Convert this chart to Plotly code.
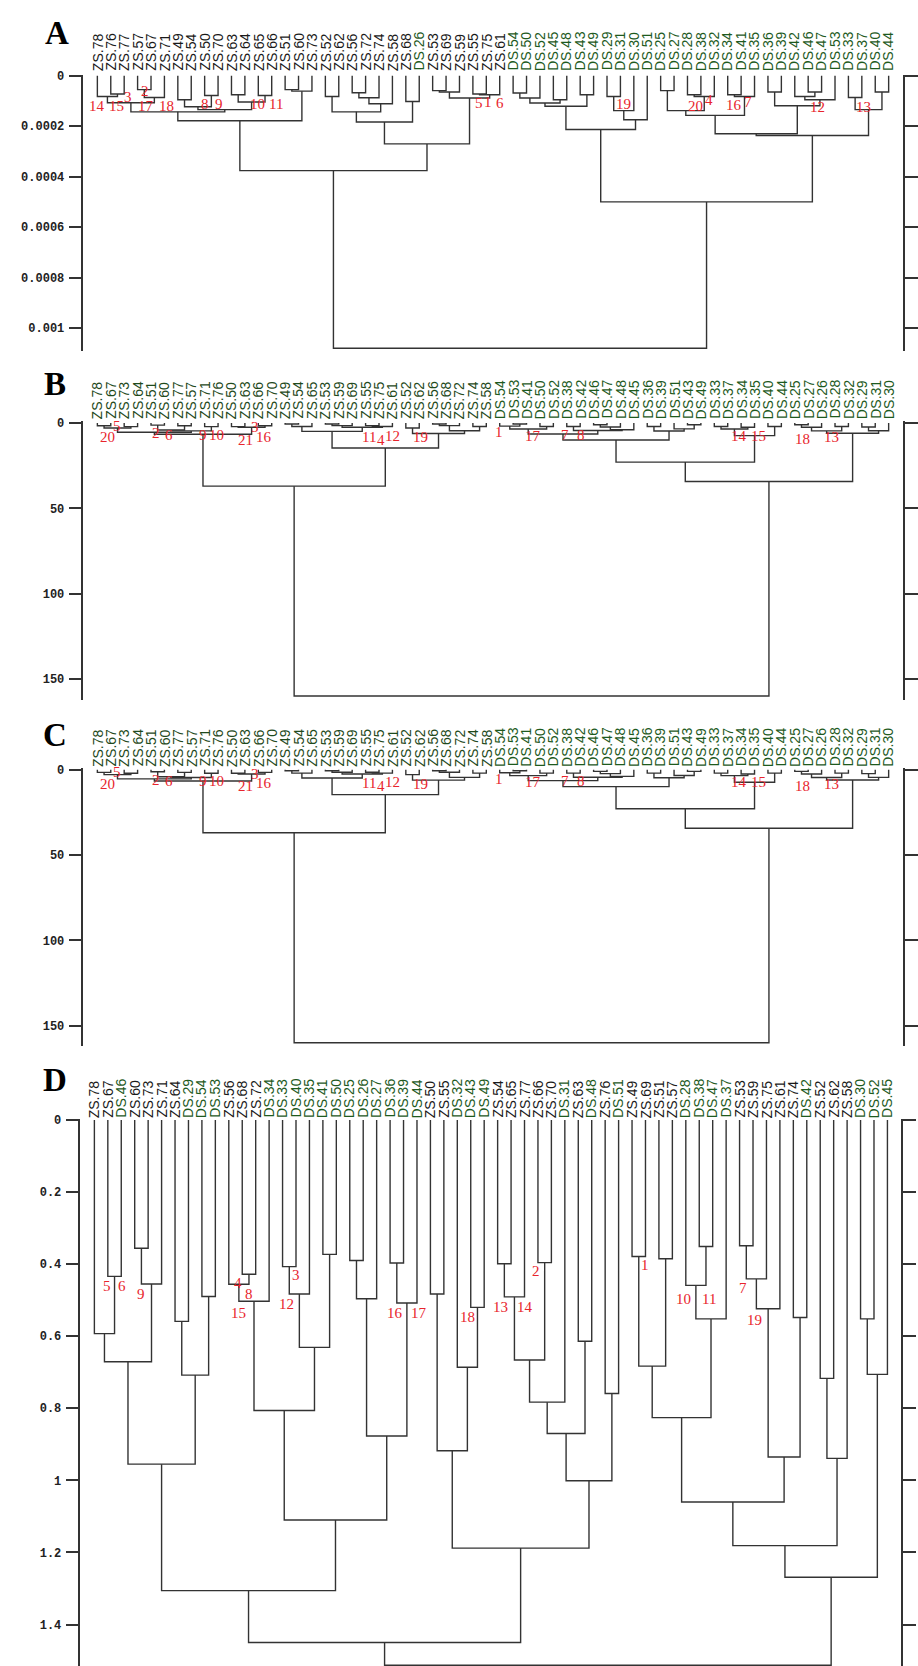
import plotly.graph_objects as go

W, H = 918, 1666

# ---------------- Panel A ----------------
a_leaves = ["ZS.78","ZS.76","ZS.77","ZS.57","ZS.67","ZS.71","ZS.49","ZS.54","ZS.50","ZS.70",
            "ZS.63","ZS.64","ZS.65","ZS.66","ZS.51","ZS.60","ZS.73","ZS.52","ZS.62","ZS.56",
            "ZS.72","ZS.74","ZS.58","ZS.68","DS.26","ZS.53","ZS.69","ZS.59","ZS.55","ZS.75",
            "ZS.61","DS.54","DS.50","DS.52","DS.45","DS.48","DS.43","DS.49","DS.29","DS.31",
            "DS.30","DS.51","DS.25","DS.27","DS.28","DS.38","DS.32","DS.34","DS.41","DS.35",
            "DS.36","DS.39","DS.42","DS.46","DS.47","DS.53","DS.33","DS.37","DS.40","DS.44"]
a_left = [1,0,3,62,61,6,8,65,10,12,68,67,64,14,73,72,17,19,77,78,76,23,80,25,83,28,85,84,82,75,
          31,90,34,91,36,93,38,96,97,95,42,44,101,100,47,104,103,50,53,52,109,107,106,56,58,113,112,99,89]
a_right = [2,60,4,5,63,7,9,66,11,13,69,70,71,15,16,74,18,20,21,22,79,24,81,26,27,29,30,86,87,88,
           32,33,35,92,37,94,39,40,41,98,43,45,46,102,48,49,105,51,54,108,55,110,111,57,59,114,115,116,117]
a_height = [7.2e-5,8.2e-5,5.5e-5,8.6e-5,1.07e-4,9.5e-5,7.8e-5,1.23e-4,7.5e-5,7.8e-5,
            1.04e-4,1.34e-4,1.43e-4,5.5e-5,6.1e-5,1.78e-4,8.2e-5,6.7e-5,8.7e-5,1.11e-4,
            1.43e-4,1.02e-4,1.83e-4,5.9e-5,6.4e-5,7.2e-5,7.5e-5,8.8e-5,2.7e-4,3.76e-4,
            6.8e-5,8.8e-5,9.5e-5,1.08e-4,7.5e-5,1.21e-4,8.2e-5,1.38e-4,1.74e-4,2.13e-4,
            5.9e-5,7.5e-5,8.2e-5,1.38e-4,7.5e-5,8.2e-5,1.57e-4,6.4e-5,6.4e-5,8.2e-5,
            9.5e-5,1.19e-4,2.30e-4,8.6e-5,6.4e-5,1.34e-4,2.37e-4,5.0e-4,1.08e-3]
a_ticks = [0, 0.0002, 0.0004, 0.0006, 0.0008, 0.001]
a_ticktext = ["0", "0.0002", "0.0004", "0.0006", "0.0008", "0.001"]
a_num_text = ["14","15","3","2","17","18","8","9","10","11","5","1","6","19","20","4","16","7","12","13"]
a_num_x = [-0.02,1.39,2.30,3.56,3.61,5.19,8.0,9.04,11.93,13.33,28.47,29.16,30.02,39.24,44.59,45.63,47.5,48.54,53.73,57.13]
a_num_y = [1.21e-4,1.21e-4,0.83e-4,0.59e-4,1.21e-4,1.21e-4,1.12e-4,1.12e-4,1.12e-4,1.12e-4,
           1.08e-4,1.02e-4,1.08e-4,1.12e-4,1.19e-4,0.95e-4,1.15e-4,1.02e-4,1.25e-4,1.24e-4]

# ---------------- Panel B ----------------
b_leaves = ["ZS.78","ZS.67","ZS.73","ZS.64","ZS.51","ZS.60","ZS.77","ZS.57","ZS.71","ZS.76",
            "ZS.50","ZS.63","ZS.66","ZS.70","ZS.49","ZS.54","ZS.65","ZS.53","ZS.59","ZS.69",
            "ZS.55","ZS.75","ZS.61","ZS.52","ZS.62","ZS.56","ZS.68","ZS.72","ZS.74","ZS.58",
            "DS.54","DS.53","DS.41","DS.50","DS.52","DS.38","DS.42","DS.46","DS.47","DS.48",
            "DS.45","DS.36","DS.39","DS.51","DS.43","DS.49","DS.33","DS.37","DS.34","DS.35",
            "DS.40","DS.44","DS.25","DS.27","DS.26","DS.28","DS.32","DS.29","DS.31","DS.30"]
b_left = [0,2,60,4,6,63,8,65,62,10,12,69,68,14,73,17,75,20,77,76,74,23,25,82,28,83,81,80,72,
          31,30,33,90,35,37,94,95,93,92,41,44,43,99,98,46,48,104,50,106,103,52,110,55,111,57,114,113,109,88]
b_right = [1,3,61,5,7,64,9,66,67,11,13,70,71,15,16,18,19,21,22,78,79,24,26,27,29,84,85,86,87,
           32,89,34,91,36,38,39,40,96,97,42,45,100,101,102,47,49,105,51,107,108,53,54,56,112,58,59,115,116,117]
b_height = [1.6,2.1,2.9,1.2,1.6,4.1,2.1,4.6,5.4,2.1,1.6,2.5,6.6,0.6,2.0,0.6,1.5,1.5,2.0,2.5,
            4.9,2.9,0.6,1.5,2.0,4.5,6.1,14.6,37.0,0.6,1.8,2.0,3.5,2.0,1.0,2.3,3.9,4.4,6.4,2.0,
            1.0,3.4,4.7,9.9,2.0,2.5,3.5,2.0,7.4,22.9,1.0,2.5,2.0,4.6,2.3,4.5,6.0,34.3,160.0]
b_ticks = [0, 50, 100, 150]
b_ticktext = ["0", "50", "100", "150"]
b_num_text = ["20","5","2","6","9","10","21","3","16","11","4","12","19","1","17","7","8","14","15","18","13"]
b_num_x = [0.77,1.43,4.35,5.33,7.85,8.91,11.01,11.76,12.42,20.27,21.14,22.0,24.1,29.98,32.5,34.9,36.07,47.85,49.3,52.54,54.76]
b_num_y = [8.4,1.5,5.8,6.8,6.8,6.8,9.7,2.5,8.0,8.0,9.7,7.4,8.4,5.4,7.4,6.8,6.8,7.4,7.4,9.3,8.4]

# ---------------- Panel C (same clustering as B) ----------------
c_leaves = list(b_leaves)
c_left = list(b_left)
c_right = list(b_right)
c_height = list(b_height)
c_ticks = [0, 50, 100, 150]
c_ticktext = ["0", "50", "100", "150"]
c_num_text = list(b_num_text)
c_num_x = list(b_num_x)
c_num_y = list(b_num_y)

# ---------------- Panel D ----------------
d_leaves = ["ZS.78","ZS.67","DS.46","ZS.60","ZS.73","ZS.71","ZS.64","DS.29","DS.54","DS.53",
            "ZS.56","ZS.68","ZS.72","DS.34","DS.33","DS.40","DS.35","DS.41","DS.50","DS.25",
            "DS.26","DS.27","DS.36","DS.39","DS.44","ZS.50","ZS.55","DS.32","DS.43","DS.49",
            "ZS.54","ZS.65","ZS.77","ZS.66","ZS.70","DS.31","ZS.63","DS.48","ZS.76","DS.51",
            "ZS.49","ZS.69","ZS.51","ZS.57","DS.28","DS.38","DS.47","DS.37","ZS.53","ZS.59",
            "ZS.75","ZS.61","ZS.74","DS.42","ZS.52","ZS.62","ZS.58","DS.30","DS.52","DS.45"]
d_left = [1,0,3,62,61,6,8,65,64,11,10,70,14,72,17,73,71,19,77,22,79,78,76,68,25,28,27,84,30,88,
          33,89,91,36,92,38,94,87,83,40,42,99,45,44,103,101,48,106,107,52,108,105,54,112,111,57,115,114,98]
d_right = [2,60,4,5,63,7,9,66,67,12,69,13,15,16,18,74,75,20,21,23,24,80,81,82,26,29,85,86,31,32,
           34,90,35,37,93,39,95,96,97,41,43,100,46,102,47,104,49,50,51,53,109,110,55,56,113,58,59,116,117]
d_height = [0.434,0.593,0.356,0.455,0.671,0.559,0.490,0.708,0.955,0.428,
            0.456,0.503,0.407,0.483,0.373,0.631,0.806,0.390,0.496,0.397,
            0.508,0.877,1.110,1.306,0.483,0.520,0.686,0.918,0.399,0.491,
            0.396,0.666,0.783,0.614,0.870,0.759,1.001,1.188,1.450,0.379,
            0.385,0.683,0.351,0.459,0.552,0.826,0.349,0.441,0.524,0.548,
            0.935,1.060,0.717,0.939,1.181,0.552,0.706,1.269,1.513]
d_ticks = [0, 0.2, 0.4, 0.6, 0.8, 1.0, 1.2, 1.4]
d_ticktext = ["0", "0.2", "0.4", "0.6", "0.8", "1", "1.2", "1.4"]
d_num_text = ["5","6","9","4","8","15","3","12","16","17","18","13","14","2","1","10","11","7","19"]
d_num_x = [0.91,2.09,3.5,10.72,11.51,10.72,14.98,14.32,22.34,24.15,27.77,30.25,32.03,32.89,40.97,43.8,45.7,48.29,49.08]
d_num_y = [0.462,0.462,0.482,0.453,0.482,0.535,0.430,0.510,0.535,0.535,0.547,0.520,0.520,0.420,0.402,0.498,0.498,0.466,0.554]


def dendro_xy(n, left, right, height):
    assert len(left) == len(right) == len(height) == n - 1
    pos = [float(i) for i in range(n)]
    hts = [0.0] * n
    xs, ys = [], []
    for l, r, h in zip(left, right, height):
        xl, xr = pos[l], pos[r]
        xs += [xl, xl, xr, xr, None]
        ys += [hts[l], h, h, hts[r], None]
        pos.append((xl + xr) / 2)
        hts.append(h)
    return xs, ys


LINE = "#333333"
DARK = "#1a1a1a"
GREEN = "#1e5a1e"
GREEN_DARK = "#1f4a1c"
RED = "#e8242c"

# layout geometry (pixels in the 918x1666 page)
panels = [
    dict(letter="A", leaves=a_leaves, left=a_left, right=a_right, height=a_height,
         ticks=a_ticks, ticktext=a_ticktext, nt=a_num_text, nx=a_num_x, ny=a_num_y,
         px_left=84, px_right=909, leaf0=98, step=13.5, top=70, bottom=347, zero=71,
         unit_per_px=0.0002 / 50.6, lab_shift=4, letter_xy=(57, 28), zs_col=DARK),
    dict(letter="B", leaves=b_leaves, left=b_left, right=b_right, height=b_height,
         ticks=b_ticks, ticktext=b_ticktext, nt=b_num_text, nx=b_num_x, ny=b_num_y,
         px_left=84, px_right=909, leaf0=98, step=13.5, top=417.5, bottom=697, zero=419.3,
         unit_per_px=150 / 256.7, lab_shift=3, letter_xy=(55, 380), zs_col=GREEN_DARK),
    dict(letter="C", leaves=c_leaves, left=c_left, right=c_right, height=c_height,
         ticks=c_ticks, ticktext=c_ticktext, nt=c_num_text, nx=c_num_x, ny=c_num_y,
         px_left=84, px_right=909, leaf0=98, step=13.5, top=765, bottom=1044, zero=767,
         unit_per_px=150 / 256.7, lab_shift=2, letter_xy=(55, 732), zs_col=GREEN_DARK),
    dict(letter="D", leaves=d_leaves, left=d_left, right=d_right, height=d_height,
         ticks=d_ticks, ticktext=d_ticktext, nt=d_num_text, nx=d_num_x, ny=d_num_y,
         px_left=81, px_right=907, leaf0=95, step=13.53, top=1117, bottom=1666, zero=1118.3,
         unit_per_px=0.2 / 72.3, lab_shift=1, letter_xy=(55, 1078), zs_col=DARK),
]

fig = go.Figure()
annotations = []
layout_axes = {}

for k, p in enumerate(panels, start=1):
    sfx = "" if k == 1 else str(k)
    xref, yref = "x" + sfx, "y" + sfx
    n = len(p["leaves"])
    xs, ys = dendro_xy(n, p["left"], p["right"], p["height"])
    fig.add_trace(go.Scatter(x=xs, y=ys, mode="lines", xaxis=xref, yaxis=yref,
                             line=dict(color=LINE, width=1.4), hoverinfo="skip",
                             showlegend=False, cliponaxis=False))
    x0 = (p["px_left"] - p["leaf0"]) / p["step"]
    x1 = (p["px_right"] - p["leaf0"]) / p["step"]
    ytop = (p["top"] - p["zero"]) * p["unit_per_px"]
    ybot = (p["bottom"] - p["zero"]) * p["unit_per_px"]
    layout_axes["xaxis" + sfx] = dict(domain=[p["px_left"] / W, p["px_right"] / W],
                                      range=[x0, x1], visible=False, anchor=yref)
    layout_axes["yaxis" + sfx] = dict(domain=[1 - p["bottom"] / H, 1 - p["top"] / H],
                                      range=[ybot, ytop], anchor=xref,
                                      tickvals=p["ticks"], ticktext=p["ticktext"],
                                      ticks="outside", ticklen=13, tickwidth=1.5,
                                      tickcolor=LINE, showline=True, linecolor=LINE,
                                      linewidth=1.5, mirror="ticks", showgrid=False,
                                      zeroline=False, ticklabelstandoff=2,
                                      tickfont=dict(family="Liberation Mono", size=12,
                                                    color="#222222", weight="bold"))
    for i, lab in enumerate(p["leaves"]):
        annotations.append(dict(x=i, y=0, xref=xref, yref=yref, text=lab,
                                textangle=-90, showarrow=False, xanchor="center",
                                yanchor="bottom", yshift=p["lab_shift"], borderpad=0,
                                font=dict(family="Liberation Sans", size=14,
                                          color=p["zs_col"] if lab.startswith("ZS") else GREEN)))
    for t, xx, yy in zip(p["nt"], p["nx"], p["ny"]):
        annotations.append(dict(x=xx, y=yy, xref=xref, yref=yref, text=t, showarrow=False,
                                xanchor="center", yanchor="middle",
                                font=dict(family="Liberation Serif", size=15, color=RED)))
    lx, ly = p["letter_xy"]
    annotations.append(dict(x=lx / W, y=1 - ly / H, xref="paper", yref="paper",
                            text="<b>" + p["letter"] + "</b>", showarrow=False,
                            xanchor="center", yanchor="middle",
                            font=dict(family="Liberation Serif", size=33, color="#000000")))

fig.update_layout(width=W, height=H, margin=dict(l=0, r=0, t=0, b=0),
                  paper_bgcolor="white", plot_bgcolor="white",
                  annotations=annotations, **layout_axes)

fig.write_html("out.html", config={"displayModeBar": False},
               post_script="document.body.style.margin='0';document.body.style.padding='0';"
                           "document.documentElement.style.overflow='hidden';")
